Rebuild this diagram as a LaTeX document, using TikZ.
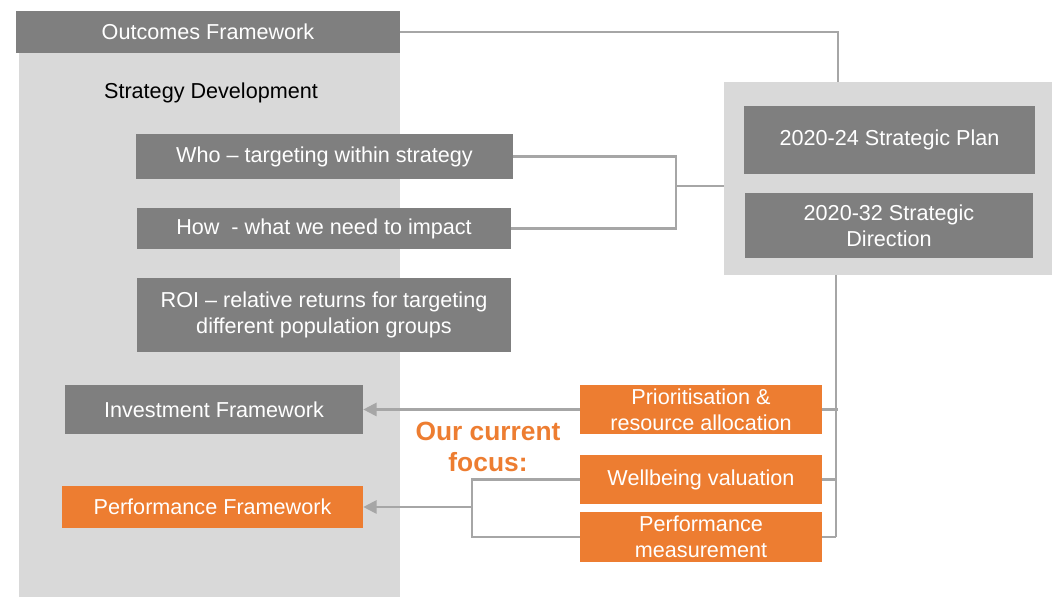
\documentclass[tikz,border=0pt]{standalone}
\usepackage{fontspec}
\setmainfont{Liberation Sans}
\usetikzlibrary{arrows.meta}
\definecolor{darkbox}{HTML}{7F7F7F}
\definecolor{lightpanel}{HTML}{D9D9D9}
\definecolor{focusorange}{HTML}{ED7D31}
\definecolor{linkgrey}{HTML}{A6A6A6}
\begin{document}
\begin{tikzpicture}[x=0.02cm, y=-0.02cm,
    panel/.style={fill=lightpanel, inner sep=0pt},
    greybox/.style={fill=darkbox, text=white, align=center, inner sep=0pt,
      font=\fontsize{12.3}{14.7}\selectfont},
    orangebox/.style={greybox, fill=focusorange},
    link/.style={draw=linkgrey, line width=1.2pt},
    feed/.style={link, -{Triangle[length=7.5pt, width=7.5pt]}}]
  \useasboundingbox (0,0) rectangle (1052,597);
  \path
    (209.5,324.5) node[panel, minimum width=7.62cm, minimum height=10.9cm] (lpanel){}
    (888,178.5) node[panel, minimum width=6.56cm, minimum height=3.86cm] (rpanel){}
    (208,32) node[greybox, minimum width=7.68cm, minimum height=0.84cm] (outcomes){Outcomes Framework}
    (211,92.5) node[font=\fontsize{12.3}{14.7}\selectfont] (strategy){Strategy Development}
    (324.5,156.5) node[greybox, minimum width=7.54cm, minimum height=0.9cm] (who){Who -- targeting within strategy}
    (324,228.5) node[greybox, minimum width=7.48cm, minimum height=0.82cm] (how){How \ - what we need to impact}
    (324,315) node[greybox, minimum width=7.48cm, minimum height=1.48cm] (roi){ROI -- relative returns for targeting\\different population groups}
    (214,409.5) node[greybox, minimum width=5.96cm, minimum height=0.98cm] (invest){Investment Framework}
    (212.5,507) node[orangebox, minimum width=6.02cm, minimum height=0.84cm] (perf){Performance Framework}
    (889.5,140) node[greybox, minimum width=5.82cm, minimum height=1.36cm] (plan){2020-24 Strategic Plan}
    (889,225.5) node[greybox, minimum width=5.76cm, minimum height=1.3cm] (direction){2020-32 Strategic\\Direction}
    (701,409.5) node[orangebox, minimum width=4.84cm, minimum height=0.98cm] (prio){Prioritisation \&\\resource allocation}
    (701,479.5) node[orangebox, minimum width=4.84cm, minimum height=0.98cm] (wellbeing){Wellbeing valuation}
    (701,537) node[orangebox, minimum width=4.84cm, minimum height=1.0cm] (measure){Performance\\measurement}
    (488,447) node[text=focusorange, align=center, font=\fontsize{15}{18}\selectfont\bfseries] (focus){Our current\\focus:};
  \coordinate (outcome drop) at (838,82);
  \coordinate (strat join) at (676,186);
  \coordinate (bus end) at (836,537);
  \coordinate (perf join) at (472,507);
  \begin{scope}[link]
    \draw (outcomes.east) -| (outcome drop);
    \draw (who.east) -| (strat join) |- (how.east);
    \draw (strat join) -- (rpanel.west |- strat join);
    \draw (rpanel.south -| bus end) -- (bus end);
    \draw (prio.east) -- ([xshift=0.04cm]prio.east -| bus end);
    \draw (wellbeing.east) -- (wellbeing.east -| bus end);
    \draw (measure.east) -- (bus end);
    \draw (wellbeing.west) -| (perf join) |- (measure.west);
  \end{scope}
  \draw[feed] (prio.west) -- (invest.east);
  \draw[feed] (perf join) -- (perf.east);
\end{tikzpicture}
\end{document}
